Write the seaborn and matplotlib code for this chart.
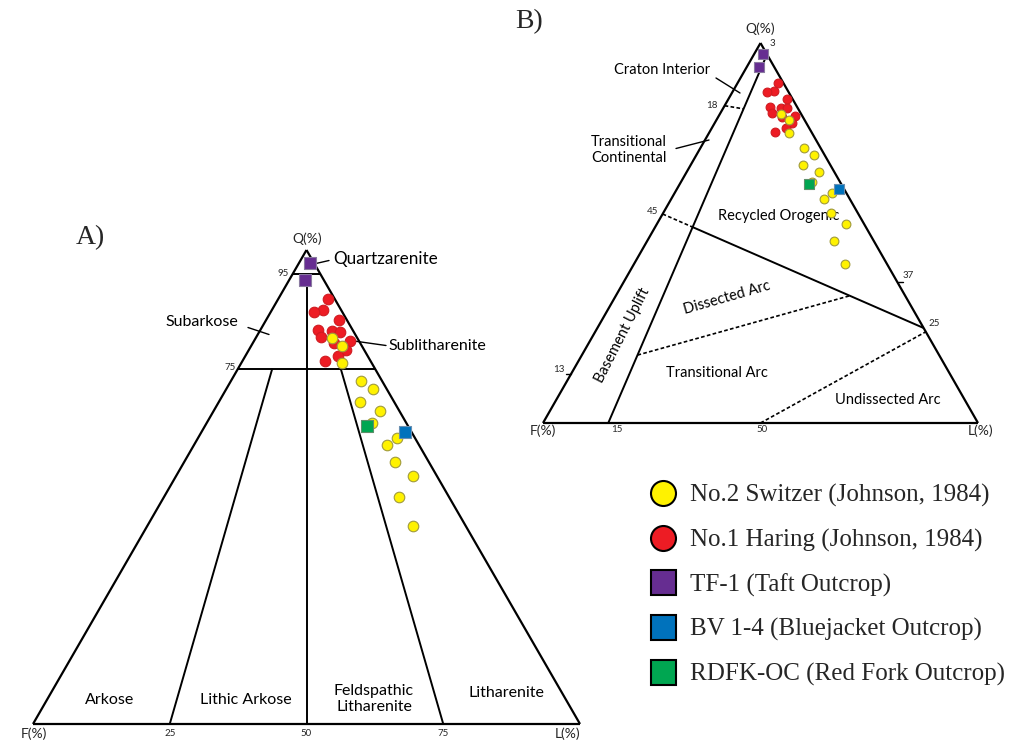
import numpy as np
import pandas as pd
import matplotlib
matplotlib.use("Agg")
import matplotlib.pyplot as plt
from matplotlib.lines import Line2D
import seaborn as sns

sns.set_theme(style="white")
plt.rcParams['font.family'] = ['Lato', 'DejaVu Sans']

# ---------------- point-count compositions (Q, F, L in %) ----------------
switzer_q = [81.4, 79.7, 76.2, 72.4, 70.6, 68.0, 66.1, 63.5, 60.4, 58.9, 55.3, 52.3, 47.9, 41.8]
switzer_f = [4.7, 3.7, 5.4, 3.8, 2.5, 6.2, 3.6, 6.3, 3.3, 5.9, 6.2, 4.3, 9.1, 9.7]
switzer_l = [13.9, 16.6, 18.4, 23.8, 26.9, 25.8, 30.3, 30.2, 36.3, 35.2, 38.5, 43.4, 43.0, 48.5]

haring_q = [89.6, 87.3, 87.0, 85.2, 83.1, 83.0, 82.8, 81.6, 80.9, 80.4, 78.9, 77.6, 76.6]
haring_f = [1.2, 3.3, 5.1, 1.4, 6.3, 3.8, 2.4, 6.6, 1.6, 4.8, 3.3, 5.4, 8.3]
haring_l = [9.2, 9.4, 7.9, 13.4, 10.6, 13.2, 14.8, 11.8, 17.5, 14.8, 17.8, 17.0, 15.1]

taft_q = [97.2, 93.7]
taft_f = [0.8, 3.4]
taft_l = [2.0, 2.9]

bluejacket_q = [61.7]
bluejacket_f = [1.1]
bluejacket_l = [37.2]

redfork_q = [62.9]
redfork_f = [7.5]
redfork_l = [29.6]

sample_names = ["No.2 Switzer (Johnson, 1984)", "No.1 Haring (Johnson, 1984)",
                "TF-1 (Taft Outcrop)", "BV 1-4 (Bluejacket Outcrop)",
                "RDFK-OC (Red Fork Outcrop)"]
sample_colors = ["#FFF200", "#ED1C24", "#662D91", "#0072BC", "#00A651"]
sample_markers = ["o", "o", "s", "s", "s"]

# ---------------- canvas ----------------
W, H = 1013, 745
fig = plt.figure(figsize=(W / 100, H / 100), dpi=100)
ax = fig.add_axes([0, 0, 1, 1])
ax.set_xlim(0, W)
ax.set_ylim(H, 0)
ax.axis("off")

# triangle corners (Q apex, F left, L right) for the two diagrams
FRAME_A = {"Q": (306.5, 250.0), "F": (33.0, 724.0), "L": (580.0, 724.0)}
FRAME_B = {"Q": (760.5, 43.0), "F": (543.0, 423.0), "L": (978.0, 423.0)}


def tern_xy(frame, q, f, l):
    q, f, l = (np.asarray(v, float) for v in (q, f, l))
    tot = q + f + l
    x = (q * frame["Q"][0] + f * frame["F"][0] + l * frame["L"][0]) / tot
    y = (q * frame["Q"][1] + f * frame["F"][1] + l * frame["L"][1]) / tot
    return x, y


def seg(frame, p0, p1, **kw):
    x0, y0 = tern_xy(frame, *p0)
    x1, y1 = tern_xy(frame, *p1)
    ax.plot([x0, x1], [y0, y1], color="black", solid_capstyle="butt", **kw)


def cross(frame, a0, a1, b0, b1):
    """Intersection of line a0-a1 with line b0-b1, returned as a QFL triple."""
    pa0 = np.array(tern_xy(frame, *a0)); pa1 = np.array(tern_xy(frame, *a1))
    pb0 = np.array(tern_xy(frame, *b0)); pb1 = np.array(tern_xy(frame, *b1))
    m = np.column_stack([pa1 - pa0, pb0 - pb1])
    s, _ = np.linalg.solve(m, pb0 - pa0)
    return tuple(np.array(a0) + s * (np.array(a1) - np.array(a0)))


LW_EDGE = 1.6
LW_IN = 1.4
DOTTED = (0, (2.2, 1.4))
lab_kw = dict(color="black", zorder=2)

# ================= A) Folk (1980) classification =================
fa = FRAME_A
seg(fa, (100, 0, 0), (0, 100, 0), lw=LW_EDGE)
seg(fa, (0, 100, 0), (0, 0, 100), lw=LW_EDGE)
seg(fa, (0, 0, 100), (100, 0, 0), lw=LW_EDGE)
seg(fa, (95, 5, 0), (95, 0, 5), lw=LW_IN)
seg(fa, (75, 25, 0), (75, 0, 25), lw=LW_IN)
seg(fa, (95, 2.5, 2.5), (0, 50, 50), lw=LW_IN)
seg(fa, (75, 18.75, 6.25), (0, 75, 25), lw=LW_IN)
seg(fa, (75, 6.25, 18.75), (0, 25, 75), lw=LW_IN)

ax.text(90, 238, "A)", family=["Liberation Serif"], fontsize=20, ha="center", va="center")
ax.text(307, 239, "Q(%)", fontsize=10, ha="center", va="center")
ax.text(283, 274, "95", fontsize=7, ha="center", va="center")
ax.text(230, 368, "75", fontsize=7, ha="center", va="center")
ax.text(34, 734, "F(%)", fontsize=10, ha="center", va="center")
ax.text(568, 734, "L(%)", fontsize=10, ha="center", va="center")
for val in (25, 50, 75):
    x, _ = tern_xy(fa, 0, 100 - val, val)
    ax.text(x, 733, str(val), fontsize=7, ha="center", va="center")

ax.text(333, 259, "Quartzarenite", fontsize=12.3, ha="left", va="center", **lab_kw)
ax.plot([316, 329], [263.5, 260.5], color="black", lw=1.0)
ax.text(202, 322, "Subarkose", fontsize=11.5, ha="center", va="center", **lab_kw)
ax.plot([248, 269], [327.5, 334.5], color="black", lw=1.0)
ax.text(388, 346, "Sublitharenite", fontsize=11.5, ha="left", va="center", **lab_kw)
ax.plot([354, 386], [341, 345.5], color="black", lw=1.0)
ax.text(110, 700, "Arkose", fontsize=11.5, ha="center", va="center", **lab_kw)
ax.text(246, 700, "Lithic Arkose", fontsize=11.5, ha="center", va="center", **lab_kw)
ax.text(374, 699, "Feldspathic\nLitharenite", fontsize=11.5, ha="center", va="center",
        linespacing=1.1, **lab_kw)
ax.text(506, 693, "Litharenite", fontsize=11.5, ha="center", va="center", **lab_kw)

# ================= B) Dickinson (1985) provenance fields =================
fb = FRAME_B
seg(fb, (100, 0, 0), (0, 100, 0), lw=LW_EDGE)
seg(fb, (0, 100, 0), (0, 0, 100), lw=LW_EDGE)
seg(fb, (0, 0, 100), (100, 0, 0), lw=LW_EDGE)

main_top, main_bot = (97, 0, 3), (0, 85, 15)
seg(fb, main_top, main_bot, lw=LW_IN)

# craton interior / transitional continental
crat_edge = (83.5, 16.5, 0)
crat_end = cross(fb, crat_edge, (80, 0, 20), main_top, main_bot)
seg(fb, crat_edge, crat_end, lw=1.2, ls=DOTTED)

# recycled orogen / magmatic arc
ro_edge, ro_right = (55, 45, 0), (25, 0, 75)
ro_mid = cross(fb, ro_edge, ro_right, main_top, main_bot)
seg(fb, ro_edge, ro_mid, lw=1.2, ls=DOTTED)
seg(fb, ro_mid, ro_right, lw=LW_IN)

# dissected arc / transitional arc
arc_a, arc_b = (13, 87, 0), (37, 0, 63)
arc_s = cross(fb, arc_a, arc_b, main_top, main_bot)
arc_e = cross(fb, arc_a, arc_b, ro_edge, ro_right)
seg(fb, arc_s, arc_e, lw=1.2, ls=DOTTED)

# transitional arc / undissected arc
seg(fb, (0, 50, 50), (24, 0, 76), lw=1.2, ls=DOTTED)

# small edge ticks
for qv, side in ((13, -1), (37, 1)):
    if side < 0:
        x, y = tern_xy(fb, qv, 100 - qv, 0)
    else:
        x, y = tern_xy(fb, qv, 0, 100 - qv)
    ax.plot([x, x + 5 * side], [y, y], color="black", lw=1.0)

ax.text(529, 22, "B)", family=["Liberation Serif"], fontsize=20, ha="center", va="center")
ax.text(760, 29, "Q(%)", fontsize=10, ha="center", va="center")
ax.text(772, 44, "3", fontsize=7, ha="center", va="center")
ax.text(712, 105, "18", fontsize=7, ha="center", va="center")
ax.text(653, 211, "45", fontsize=7, ha="center", va="center")
ax.text(908, 276, "37", fontsize=7, ha="center", va="center")
ax.text(934, 324, "25", fontsize=7, ha="center", va="center")
ax.text(559, 370, "13", fontsize=7, ha="center", va="center")
ax.text(543, 431, "F(%)", fontsize=10, ha="center", va="center")
ax.text(617, 429, "15", fontsize=7, ha="center", va="center")
ax.text(762, 429, "50", fontsize=7, ha="center", va="center")
ax.text(981, 431, "L(%)", fontsize=10, ha="center", va="center")

ax.text(662, 70, "Craton Interior", fontsize=10.5, ha="center", va="center", **lab_kw)
ax.plot([716, 740], [78, 93], color="black", lw=1.0)
ax.text(629, 150, "Transitional\nContinental", fontsize=10.5, ha="center", va="center",
        linespacing=1.15, **lab_kw)
ax.plot([676, 709], [148.5, 140], color="black", lw=1.0)
ax.text(779, 216, "Recycled Orogenic", fontsize=10.5, ha="center", va="center", **lab_kw)
ax.text(727, 298, "Dissected Arc", fontsize=10.5, ha="center", va="center",
        rotation=16, rotation_mode="anchor", **lab_kw)
ax.text(622, 335, "Basement Uplift", fontsize=10.5, ha="center", va="center",
        rotation=63, rotation_mode="anchor", **lab_kw)
ax.text(717, 373, "Transitional Arc", fontsize=10.5, ha="center", va="center", **lab_kw)
ax.text(888, 400, "Undissected Arc", fontsize=10.5, ha="center", va="center", **lab_kw)

# ================= sample points on both diagrams =================
groups = [
    ("No.1 Haring (Johnson, 1984)", haring_q, haring_f, haring_l),
    ("No.2 Switzer (Johnson, 1984)", switzer_q, switzer_f, switzer_l),
    ("TF-1 (Taft Outcrop)", taft_q, taft_f, taft_l),
    ("BV 1-4 (Bluejacket Outcrop)", bluejacket_q, bluejacket_f, bluejacket_l),
    ("RDFK-OC (Red Fork Outcrop)", redfork_q, redfork_f, redfork_l),
]
style = {n: (c, m) for n, c, m in zip(sample_names, sample_colors, sample_markers)}
edge = {"#FFF200": "#A09A3C", "#ED1C24": "#D01A20", "#662D91": "#8A7AA0",
        "#0072BC": "#6A8FB0", "#00A651": "#5E8F6A"}

for frame, s_circ, s_sq in ((fa, 58, 85), (fb, 40, 60)):
    for name, q, f, l in groups:
        x, y = tern_xy(frame, q, f, l)
        df = pd.DataFrame({"x": x, "y": y})
        col, mk = style[name]
        sns.scatterplot(data=df, x="x", y="y", ax=ax, color=col, marker=mk,
                        s=s_circ if mk == "o" else s_sq,
                        edgecolor=edge[col], linewidth=0.8, zorder=5, legend=False)

ax.set_xlim(0, W)
ax.set_ylim(H, 0)
ax.set_xlabel("")
ax.set_ylabel("")

# ================= legend =================
handles = [Line2D([], [], ls="", marker=m, markersize=18, markerfacecolor=c,
                  markeredgecolor="black", markeredgewidth=1.5)
           for c, m in zip(sample_colors, sample_markers)]
ax.legend(handles, sample_names, loc="upper left", bbox_to_anchor=(648, 484),
          bbox_transform=ax.transData, frameon=False, borderpad=0, borderaxespad=0,
          handlelength=1.2, handletextpad=0.48, labelspacing=0.86,
          prop={"family": "Liberation Serif", "size": 18})

fig.savefig("out.png", dpi=100, facecolor="white")
